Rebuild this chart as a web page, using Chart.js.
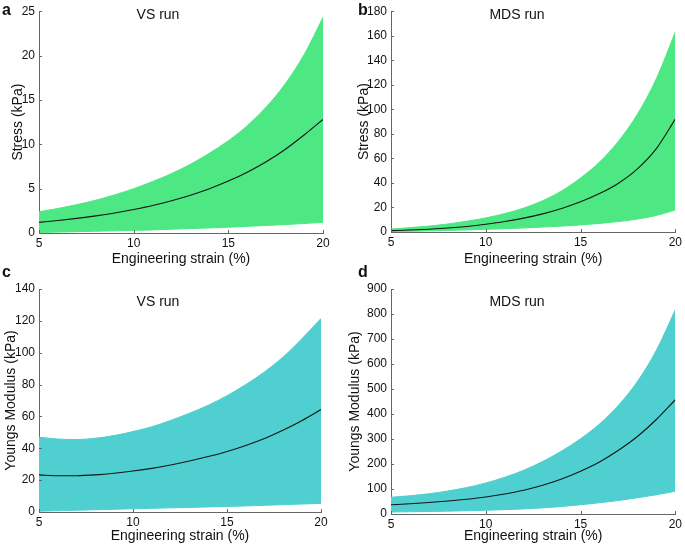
<!DOCTYPE html>
<html>
<head>
<meta charset="utf-8">
<title>Stress and Youngs modulus vs engineering strain</title>
<script src="https://cdn.jsdelivr.net/npm/chart.js@4.4.1/dist/chart.umd.min.js"></script>
<style>
  html, body { margin: 0; padding: 0; background: #fff; }
  #wrap { position: relative; width: 685px; height: 548px; overflow: hidden; }
  .panel { position: absolute; }
</style>
</head>
<body>
<div id="wrap">
  <div class="panel" style="left:0;top:0"><canvas id="panel-a" width="342" height="270"></canvas></div>
  <div class="panel" style="left:342px;top:0"><canvas id="panel-b" width="343" height="270"></canvas></div>
  <div class="panel" style="left:0;top:260px"><canvas id="panel-c" width="342" height="288"></canvas></div>
  <div class="panel" style="left:342px;top:260px"><canvas id="panel-d" width="343" height="288"></canvas></div>
</div>

<script>
/* ─── Data ──────────────────────────────────────────────────────────────────── */

const STRAIN = [5, 6, 7, 8, 9, 10, 11, 12, 13, 14, 15, 16, 17, 18, 19, 20];

// a – Stress, VS run (kPa)
const VS_STRESS_MEAN  = [1.2, 1.41, 1.65, 1.93, 2.26, 2.65, 3.1, 3.64, 4.26, 4.99, 5.85, 6.86, 8.04, 9.42, 11.04, 12.8];
const VS_STRESS_UPPER = [2.4, 2.76, 3.2, 3.7, 4.3, 5.0, 5.8, 6.7, 7.75, 9.0, 10.4, 12.1, 14.2, 16.8, 20.1, 24.3];
const VS_STRESS_LOWER = [0.05, 0.1, 0.15, 0.2, 0.25, 0.3, 0.35, 0.42, 0.5, 0.57, 0.65, 0.75, 0.85, 0.95, 1.07, 1.2];

// b – Stress, MDS run (kPa)
const MDS_STRESS_MEAN  = [1.1, 1.6, 2.3, 3.2, 4.5, 6.3, 8.5, 11.3, 14.8, 19.2, 24.6, 31.3, 39.8, 51.5, 68, 92];
const MDS_STRESS_UPPER = [2.5, 3.5, 4.8, 6.5, 8.8, 11.5, 15, 19.5, 25.5, 33.5, 44, 57, 74, 96, 125, 163];
const MDS_STRESS_LOWER = [0.3, 0.6, 0.9, 1.3, 1.7, 2.2, 2.7, 3.3, 4.0, 4.8, 5.8, 7.0, 8.5, 10.5, 13.5, 18];

// c – Youngs modulus, VS run (kPa)
const VS_YM_MEAN  = [23.3, 22.8, 22.8, 23.3, 24.3, 25.7, 27.4, 29.5, 32, 34.8, 38, 41.8, 46.2, 51.5, 57.5, 64.3];
const VS_YM_UPPER = [47, 45.8, 45.5, 46.3, 48, 50.5, 53.5, 57.5, 62, 67, 73, 80, 88, 97.5, 109, 121.5];
const VS_YM_LOWER = [0.5, 0.8, 1.1, 1.4, 1.7, 2.0, 2.3, 2.6, 2.9, 3.2, 3.5, 3.8, 4.2, 4.6, 5.0, 5.4];

// d – Youngs modulus, MDS run (kPa)
const MDS_YM_MEAN  = [37, 41, 46, 52, 59, 68, 80, 95, 115, 140, 171, 208, 255, 310, 378, 457];
const MDS_YM_UPPER = [67, 73, 81, 92, 106, 124, 147, 175, 210, 252, 301, 360, 435, 530, 655, 817];
const MDS_YM_LOWER = [8, 9, 10, 11.5, 13, 15, 17.5, 20.5, 24.5, 30, 37, 45, 54, 65, 77, 91];

// axis ranges
const X_TICKS    = [5, 10, 15, 20];
const Y_MAX      = { a: 25, b: 180, c: 140, d: 900 };
const Y_STEP     = { a: 5,  b: 20,  c: 20,  d: 100 };

/* ─── Style ─────────────────────────────────────────────────────────────────── */

const FONT       = '"Liberation Sans", Arial, sans-serif';
const GREEN      = '#4de883';
const TEAL       = '#4fcfcf';
const LINE_COLOR = '#151515';
const AXIS_COLOR = '#666666';
const TEXT_COLOR = '#111111';

/* ─── Plugin: inward ticks, run label, panel letter ─────────────────────────── */

const panelDecor = {
  id: 'panelDecor',
  afterDatasetsDraw(chart, args, o) {
    const { ctx } = chart;
    const xs = chart.scales.x, ys = chart.scales.y;
    ctx.save();
    ctx.strokeStyle = AXIS_COLOR;
    ctx.lineWidth = 1;
    ctx.beginPath();
    xs.ticks.forEach(t => {
      const px = Math.round(xs.getPixelForValue(t.value)) + 0.5;
      ctx.moveTo(px, ys.bottom);
      ctx.lineTo(px, ys.bottom - 3);
    });
    ys.ticks.forEach(t => {
      const py = Math.round(ys.getPixelForValue(t.value)) + 0.5;
      ctx.moveTo(xs.left, py);
      ctx.lineTo(xs.left + 3, py);
    });
    ctx.stroke();

    ctx.fillStyle = TEXT_COLOR;
    ctx.font = '14px ' + FONT;
    ctx.textAlign = 'center';
    ctx.textBaseline = 'middle';
    ctx.fillText(o.run, o.runX, o.runY);

    ctx.font = 'bold 16px ' + FONT;
    ctx.textAlign = 'left';
    ctx.textBaseline = 'alphabetic';
    ctx.fillText(o.letter, o.letterX, o.letterY);
    ctx.restore();
  }
};

/* ─── Panel builder ─────────────────────────────────────────────────────────── */

const pts = arr => STRAIN.map((s, i) => ({ x: s, y: arr[i] }));

function makePanel(id, p) {
  const canvas = document.getElementById(id);
  const curve = { pointRadius: 0, cubicInterpolationMode: 'monotone' };
  return new Chart(canvas.getContext('2d'), {
    type: 'line',
    data: {
      datasets: [
        { ...curve, data: pts(p.upper), borderColor: p.fill, borderWidth: 1, fill: false, order: 2 },
        { ...curve, data: pts(p.lower), borderColor: p.fill, borderWidth: 1, fill: '-1',
          backgroundColor: p.fill, order: 1 },
        { ...curve, data: pts(p.mean), borderColor: LINE_COLOR, borderWidth: 1.1, fill: false, order: 0 },
      ],
    },
    options: {
      responsive: false,
      animation: false,
      events: [],
      layout: { padding: { top: p.padTop, right: p.padRight, left: 0, bottom: 0 } },
      plugins: {
        legend: { display: false },
        tooltip: { enabled: false },
        panelDecor: p.decor,
      },
      scales: {
        x: {
          type: 'linear',
          min: 5, max: 20,
          afterBuildTicks: s => { s.ticks = X_TICKS.map(v => ({ value: v })); },
          afterFit: s => { s.height = p.xH; },
          grid: { display: false, drawTicks: false },
          border: { display: true, color: AXIS_COLOR, width: 1 },
          ticks: { color: TEXT_COLOR, padding: 3, maxRotation: 0, font: { family: FONT, size: 12 } },
          title: {
            display: true, text: 'Engineering strain (%)', color: TEXT_COLOR,
            font: { family: FONT, size: 14 }, padding: { top: 0, bottom: p.xTitlePad },
          },
        },
        y: {
          min: 0, max: p.yMax,
          ticks: { stepSize: p.yStep, color: TEXT_COLOR, padding: 4, font: { family: FONT, size: 12 } },
          afterFit: s => { s.width = p.yW; },
          grid: { display: false, drawTicks: false },
          border: { display: true, color: AXIS_COLOR, width: 1 },
          title: {
            display: true, text: p.yTitle, color: TEXT_COLOR,
            font: { family: FONT, size: 14 }, padding: { top: p.yTitlePad, bottom: 0 },
          },
        },
      },
    },
    plugins: [panelDecor],
  });
}

/* ─── Panels ────────────────────────────────────────────────────────────────── */

makePanel('panel-a', {
  mean: VS_STRESS_MEAN, upper: VS_STRESS_UPPER, lower: VS_STRESS_LOWER, fill: GREEN,
  yMax: Y_MAX.a, yStep: Y_STEP.a, yTitle: 'Stress (kPa)',
  padTop: 9, padRight: 19, yW: 39, xH: 37, yTitlePad: 10, xTitlePad: 2,
  decor: { run: 'VS run', runX: 158, runY: 15, letter: 'a', letterX: 2, letterY: 15 },
});

makePanel('panel-b', {
  mean: MDS_STRESS_MEAN, upper: MDS_STRESS_UPPER, lower: MDS_STRESS_LOWER, fill: GREEN,
  yMax: Y_MAX.b, yStep: Y_STEP.b, yTitle: 'Stress (kPa)',
  padTop: 10, padRight: 8, yW: 49, xH: 38, yTitlePad: 14, xTitlePad: 2,
  decor: { run: 'MDS run', runX: 175, runY: 15, letter: 'b', letterX: 16, letterY: 15 },
});

makePanel('panel-c', {
  mean: VS_YM_MEAN, upper: VS_YM_UPPER, lower: VS_YM_LOWER, fill: TEAL,
  yMax: Y_MAX.c, yStep: Y_STEP.c, yTitle: 'Youngs Modulus (kPa)',
  padTop: 29, padRight: 21, yW: 39, xH: 36, yTitlePad: 3, xTitlePad: 3,
  decor: { run: 'VS run', runX: 158, runY: 42, letter: 'c', letterX: 2, letterY: 17 },
});

makePanel('panel-d', {
  mean: MDS_YM_MEAN, upper: MDS_YM_UPPER, lower: MDS_YM_LOWER, fill: TEAL,
  yMax: Y_MAX.d, yStep: Y_STEP.d, yTitle: 'Youngs Modulus (kPa)',
  padTop: 29, padRight: 8, yW: 49, xH: 34, yTitlePad: 5, xTitlePad: 3,
  decor: { run: 'MDS run', runX: 175, runY: 42, letter: 'd', letterX: 16, letterY: 17 },
});
</script>
</body>
</html>
